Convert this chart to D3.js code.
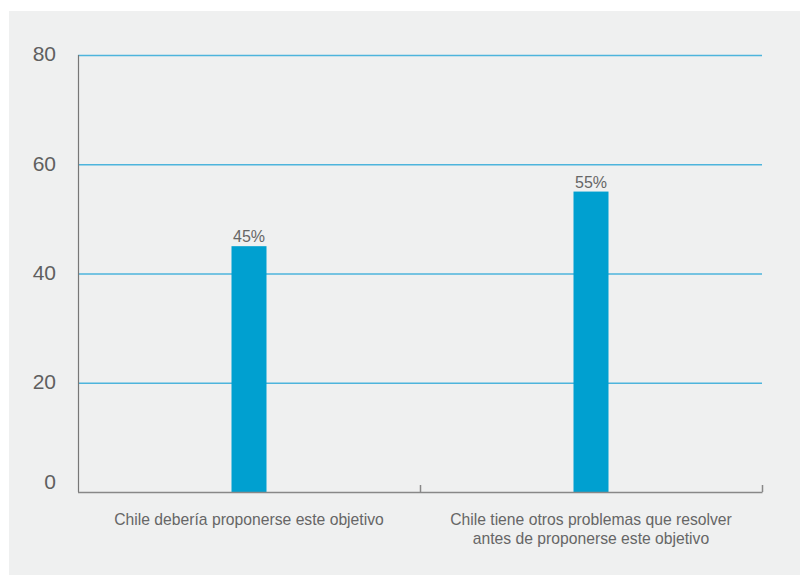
<!DOCTYPE html>
<html><head><meta charset="utf-8">
<script src="https://cdn.jsdelivr.net/npm/d3@7"></script>
<style>body{margin:0;background:#fff;}svg{display:block;font-family:"Liberation Sans",Arial,sans-serif;}</style>
</head><body><svg id="c" width="804" height="575"></svg>
<script>
const categories = [["Chile debería proponerse este objetivo"], ["Chile tiene otros problemas que resolver", "antes de proponerse este objetivo"]];
const values = [45, 55];
const labels = ["45%", "55%"];
const yTicks = [0, 20, 40, 60, 80];

const svg = d3.select("#c");
svg.append("rect").attr("x", 9).attr("y", 11).attr("width", 791).attr("height", 564).attr("fill", "#eff0f0");

const mLeft = 78, mRight = 762, mTop = 55, mBottom = 492;
const x = d3.scaleBand().domain(d3.range(categories.length)).range([mLeft, mRight]);
const y = d3.scaleLinear().domain([0, 80]).range([mBottom, mTop]);

// gridlines
svg.append("g").selectAll("line").data(yTicks.filter(d => d > 0)).join("line")
  .attr("x1", mLeft).attr("x2", mRight).attr("y1", d => y(d) + 0.5).attr("y2", d => y(d) + 0.5)
  .attr("stroke", "#4db4dc").attr("stroke-width", 1.3);

// bars
const bw = 35;
svg.append("g").selectAll("rect").data(values).join("rect")
  .attr("x", (d, i) => x(i) + x.bandwidth() / 2 - bw / 2)
  .attr("width", bw)
  .attr("y", d => y(d))
  .attr("height", d => mBottom - y(d))
  .attr("fill", "#00a0d0");

// value labels
svg.append("g").selectAll("text").data(values).join("text")
  .attr("x", (d, i) => x(i) + x.bandwidth() / 2)
  .attr("y", d => y(d) - 4)
  .attr("text-anchor", "middle").attr("font-size", 16).attr("fill", "#666")
  .text((d, i) => labels[i]);

// y axis line
svg.append("line").attr("x1", mLeft + 0.5).attr("x2", mLeft + 0.5).attr("y1", mTop).attr("y2", mBottom)
  .attr("stroke", "#777").attr("stroke-width", 1.2);
// x axis line
svg.append("line").attr("x1", mLeft).attr("x2", mRight + 0.5).attr("y1", mBottom + 0.5).attr("y2", mBottom + 0.5)
  .attr("stroke", "#888").attr("stroke-width", 1.5);
// x ticks at band boundaries (upward)
const bounds = x.domain().slice(1).map(i => x(i)).concat([mRight]);
svg.append("g").selectAll("line").data(bounds).join("line")
  .attr("x1", d => d + 0.5).attr("x2", d => d + 0.5).attr("y1", mBottom - 7).attr("y2", mBottom)
  .attr("stroke", "#888").attr("stroke-width", 1.5);

// y tick labels
svg.append("g").selectAll("text").data(yTicks).join("text")
  .attr("x", 56).attr("y", d => y(d) - (d === 0 ? 10 : 1))
  .attr("dy", "0.35em").attr("text-anchor", "end")
  .attr("font-size", 21).attr("fill", "#5f5f5f").text(d => d);

// category labels
const cg = svg.append("g").selectAll("text").data(categories).join("text")
  .attr("text-anchor", "middle").attr("font-size", 15.7).attr("fill", "#666");
cg.each(function(lines, i) {
  d3.select(this).selectAll("tspan").data(lines).join("tspan")
    .attr("x", x(i) + x.bandwidth() / 2)
    .attr("y", (l, j) => 524.5 + j * 19.5)
    .text(l => l);
});
</script></body></html>
